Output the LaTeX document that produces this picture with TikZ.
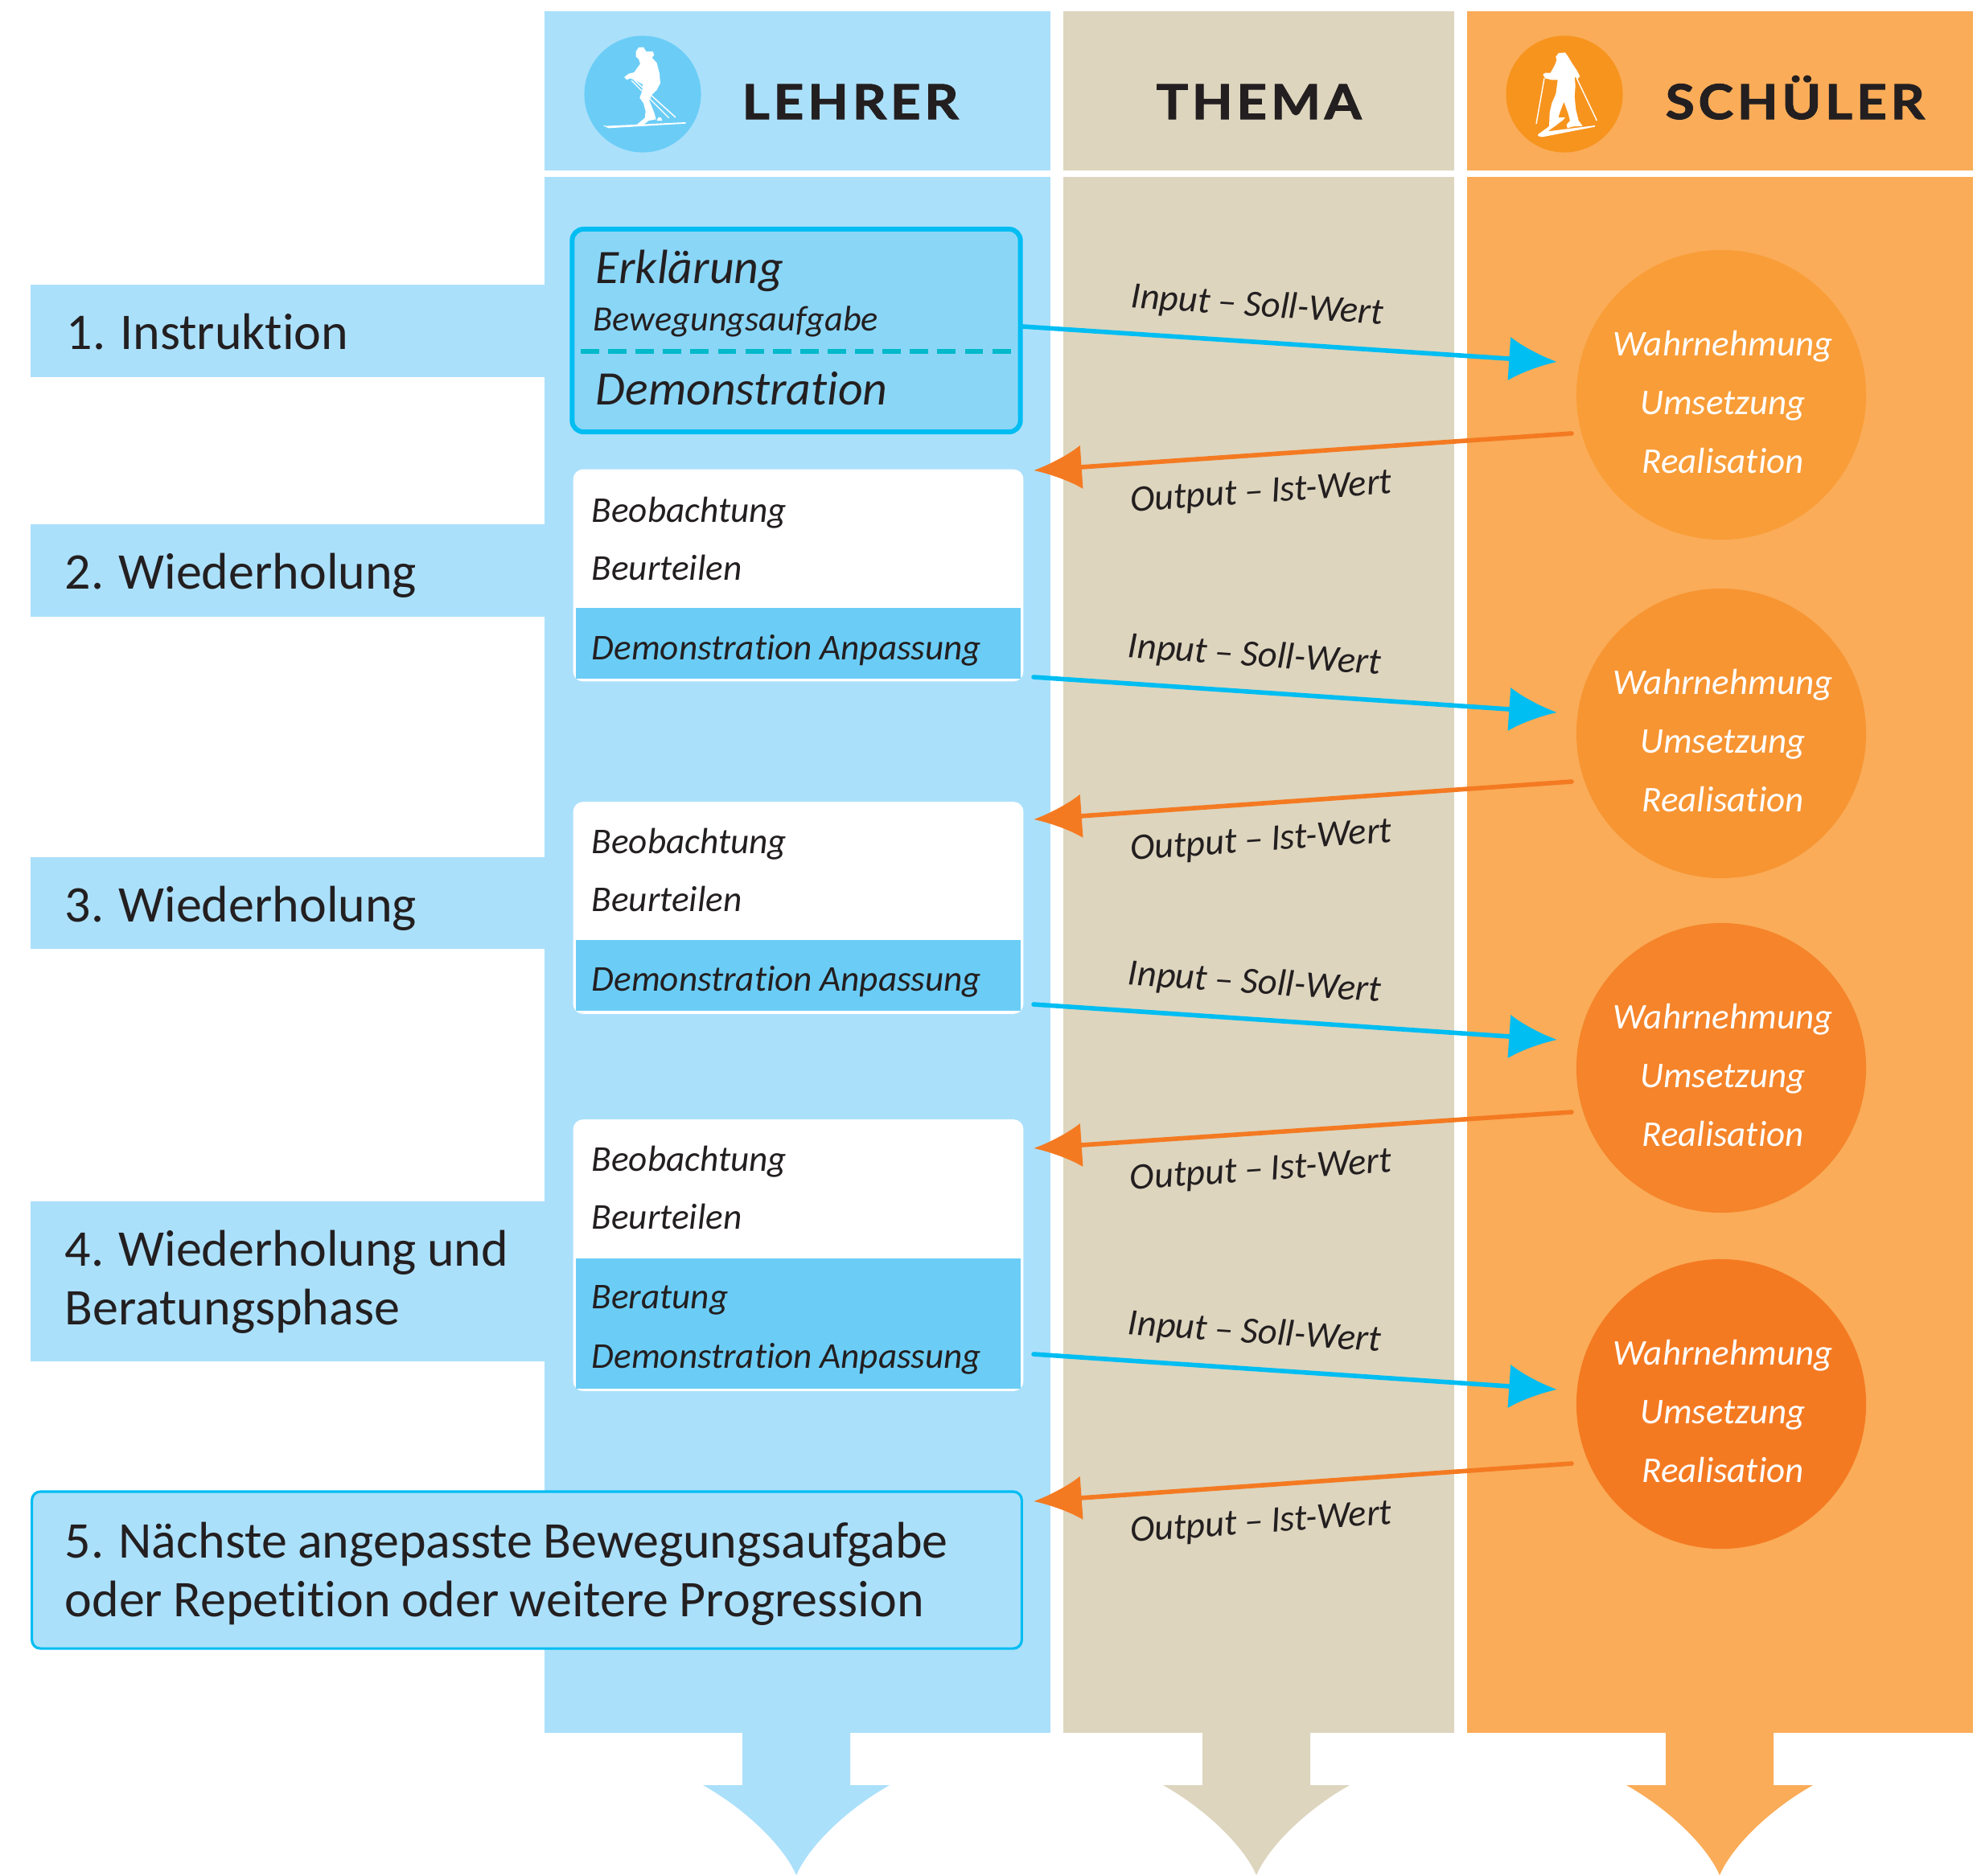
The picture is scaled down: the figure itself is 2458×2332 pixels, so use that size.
\documentclass[tikz,border=0pt]{standalone}
\usepackage{fontspec}
\setmainfont[Ligatures=NoCommon, WordSpace=0.92]{Carlito}
\newfontfamily\headfont[LetterSpace=8, FakeStretch=1.1, BoldFeatures={FakeBold=1.8}]{Lato}
\usetikzlibrary{arrows.meta}

\definecolor{dunkel}{HTML}{231F20}
\definecolor{hellblau}{HTML}{ABE0FB}
\definecolor{mittelblau}{HTML}{8AD6F7}
\definecolor{kopfblau}{HTML}{6BCDF6}
\definecolor{cyan}{HTML}{00BDF2}
\definecolor{teal}{HTML}{00B9C9}
\definecolor{beige}{HTML}{DDD5BE}
\definecolor{hellorange}{HTML}{FAAC58}
\definecolor{kopforange}{HTML}{F7941E}
\definecolor{pfeilorange}{HTML}{F47A22}
\definecolor{kreisa}{HTML}{F99D38}
\definecolor{kreisb}{HTML}{F79533}
\definecolor{kreisc}{HTML}{F5842A}
\definecolor{kreisd}{HTML}{F47A22}

\begin{document}
\begin{tikzpicture}[x=0.01cm, y=-0.01cm, text=dunkel,
    band/.style = {fill=hellblau, minimum width=6.39cm, inner sep=0pt},
    stufe/.style = {anchor=base west, inner sep=0pt, font=\fontsize{18.2}{20.7}\selectfont},
    kasten/.style = {draw=white, fill=white, line width=1pt, rounded corners=3pt, minimum width=5.56cm},
    blauteil/.style = {fill=kopfblau, minimum width=5.53cm, inner sep=0pt},
    klein/.style = {anchor=base west, inner sep=0pt, font=\fontsize{12.85}{13}\selectfont\itshape},
    gross/.style = {anchor=base west, inner sep=0pt, font=\fontsize{17}{17}\selectfont\itshape},
    kopf/.style = {anchor=base west, inner sep=0pt, font=\headfont\bfseries\fontsize{17}{17}\selectfont},
    kreis/.style = {circle, minimum size=3.6cm, inner sep=0pt},
    kreistext/.style = {inner sep=0pt, text=white, align=center, font=\fontsize{12.8}{20.7}\selectfont\itshape},
    kopfkreis/.style = {circle, minimum size=1.45cm, inner sep=0pt},
    hin/.style = {cyan, line width=1.6pt, line cap=round, -{Latex[length=17pt, width=15.5pt]}},
    her/.style = {pfeilorange, line width=1.6pt, line cap=round, -{Latex[length=17pt, width=15.5pt]}},
    pfeiltext/.style = {sloped, inner sep=0pt, font=\fontsize{13.2}{13.2}\selectfont\itshape, text=dunkel}]

    \useasboundingbox (0,0) rectangle (2458,2332);

    % spalten
    \fill[hellblau] (677,14) rectangle (1306,212);
    \fill[hellblau] (677,220) rectangle (1306,2155);
    \fill[beige] (1322,14) rectangle (1808,212);
    \fill[beige] (1322,220) rectangle (1808,2155);
    \fill[hellorange] (1824,14) rectangle (2453,212);
    \fill[hellorange] (1824,220) rectangle (2453,2155);

    % pfeile unten
    \fill[hellblau] (923,2155) -- (1057,2155) -- (1057,2220) -- (1106,2220) .. controls (1051,2251) and (1005,2297) .. (990,2332) .. controls (975,2297) and (929,2251) .. (874,2220) -- (923,2220) -- cycle;
    \fill[beige] (1495,2155) -- (1629,2155) -- (1629,2220) -- (1678,2220) .. controls (1623,2251) and (1577,2297) .. (1562,2332) .. controls (1547,2297) and (1501,2251) .. (1446,2220) -- (1495,2220) -- cycle;
    \fill[hellorange] (2071,2155) -- (2205,2155) -- (2205,2220) -- (2254,2220) .. controls (2199,2251) and (2153,2297) .. (2138,2332) .. controls (2123,2297) and (2077,2251) .. (2022,2220) -- (2071,2220) -- cycle;

    % kopf
    \node[kopfkreis, fill=kopfblau] (kopf1) at (799,117) {};
    \node[kopfkreis, fill=kopforange] (kopf3) at (1945,117) {};
    \node[kopf] (lehrer) at (922,148) {LEHRER};
    \node[kopf] (thema) at (1437,148) {THEMA};
    \node[kopf] (schueler) at (2070,148) {SCHÜLER};

    % skifahrer lehrer
    \begin{scope}[shift={(720,40)}, scale=1/3]
        \draw[white, line width=0.4pt] (195,180) -- (335,320) (205,178) -- (360,318);
        \fill[white] (212,72) -- (222,57) -- (240,56) -- (250,72) -- (275,72) -- (280,85) -- (272,95) -- (290,115) -- (300,155) -- (303,190) -- (290,215) -- (270,235) -- (262,255) -- (280,300) -- (287,325) -- (260,330) -- (240,345) -- (215,345) -- (245,320) -- (248,295) -- (240,265) -- (226,245) -- (235,220) -- (238,195) -- (210,180) -- (190,172) -- (178,178) -- (168,168) -- (185,155) -- (205,150) -- (228,118) -- (222,100) -- (212,92) -- cycle;
        \fill[white] (92,347) -- (100,350) -- (398,336) -- (398,341) -- (110,358) -- (92,350) -- cycle;
        \fill[white] (295,318) -- (305,318) -- (310,330) -- (290,330) -- cycle;
    \end{scope}

    % skifahrer schueler
    \begin{scope}[shift={(1866,40)}, scale=1/3]
        \draw[white, line width=0.4pt] (162,172) -- (132,342) (283,172) -- (358,330);
        \fill[white] (205,92) -- (215,78) -- (240,76) -- (250,90) -- (265,115) -- (285,145) -- (295,165) -- (285,175) -- (275,165) -- (278,200) -- (275,240) -- (280,290) -- (290,330) -- (305,350) -- (270,352) -- (248,358) -- (245,345) -- (258,330) -- (250,300) -- (235,260) -- (220,300) -- (205,350) -- (180,350) -- (182,300) -- (190,265) -- (205,230) -- (212,178) -- (190,178) -- (165,172) -- (157,158) -- (165,152) -- (185,152) -- (200,125) -- (208,105) -- cycle;
        \fill[white] (138,382) -- (175,355) -- (212,318) -- (240,318) -- (232,328) -- (175,370) -- (352,348) -- (350,353) -- (155,391) -- (140,388) -- cycle;
    \end{scope}

    % phasen links
    \node[band, minimum height=1.15cm] (band1) at (357.5,411.5) {};
    \node[band, minimum height=1.15cm] (band2) at (357.5,709.5) {};
    \node[band, minimum height=1.14cm] (band3) at (357.5,1123) {};
    \node[band, minimum height=1.99cm] (band4) at (357.5,1593.5) {};
    \node[stufe] (text1) at (82,434) {1. Instruktion};
    \node[stufe] (text2) at (80,732) {2. Wiederholung};
    \node[stufe] (text3) at (80,1146) {3. Wiederholung};
    \node[stufe] (text4a) at (80,1574) {4. Wiederholung und};
    \node[stufe] (text4b) at (80,1647) {Beratungsphase};

    % erster kasten
    \node[draw=cyan, fill=mittelblau, line width=1.7pt, rounded corners=4pt, minimum width=5.57cm, minimum height=2.52cm] (box1) at (990,411) {};
    \draw[teal, line width=1.7pt, dash pattern=on 6.5pt off 3.2pt] (722,437) -- (1262,437);
    \node[gross] (erkl) at (740,352) {Erklärung};
    \node[klein, font=\fontsize{12.6}{13}\selectfont\itshape] (aufg) at (737,411) {Bewegungsaufgabe};
    \node[gross] (demo) at (740,503) {Demonstration};

    % kasten 2
    \node[kasten, minimum height=2.6cm] (box2) at (992.5,715.5) {};
    \node[blauteil, minimum height=0.88cm] (blau2) at (992.5,800) {};
    \node[klein] (beob2) at (735,649) {Beobachtung};
    \node[klein] (beur2) at (735,721) {Beurteilen};
    \node[klein] (anp2) at (735,820) {Demonstration Anpassung};

    % kasten 3
    \node[kasten, minimum height=2.6cm] (box3) at (992.5,1129) {};
    \node[blauteil, minimum height=0.88cm] (blau3) at (992.5,1213) {};
    \node[klein] (beob3) at (735,1061) {Beobachtung};
    \node[klein] (beur3) at (735,1133) {Beurteilen};
    \node[klein] (anp3) at (735,1232) {Demonstration Anpassung};

    % kasten 4
    \node[kasten, minimum height=3.34cm] (box4) at (992.5,1561) {};
    \node[blauteil, minimum height=1.61cm] (blau4) at (992.5,1646) {};
    \node[klein] (beob4) at (735,1456) {Beobachtung};
    \node[klein] (beur4) at (735,1528) {Beurteilen};
    \node[klein] (bera4) at (735,1627) {Beratung};
    \node[klein] (anp4) at (735,1701) {Demonstration Anpassung};

    % kasten 5
    \node[band, draw=cyan, line width=0.9pt, rounded corners=3pt, minimum width=12.3cm, minimum height=1.95cm] (box5) at (655,1952.5) {};
    \node[stufe] (text5a) at (80,1937) {5. Nächste angepasste Bewegungsaufgabe};
    \node[stufe] (text5b) at (80,2010) {oder Repetition oder weitere Progression};

    % kreise
    \node[kreis, fill=kreisa] (kreis1) at (2140,491) {};
    \node[kreis, fill=kreisb] (kreis2) at (2140,912) {};
    \node[kreis, fill=kreisc] (kreis3) at (2140,1328) {};
    \node[kreis, fill=kreisd] (kreis4) at (2140,1746) {};
    \node[kreistext] (wort1) at (2142,500) {Wahrnehmung\\Umsetzung\\Realisation};
    \node[kreistext] (wort2) at (2142,921) {Wahrnehmung\\Umsetzung\\Realisation};
    \node[kreistext] (wort3) at (2142,1337) {Wahrnehmung\\Umsetzung\\Realisation};
    \node[kreistext] (wort4) at (2142,1755) {Wahrnehmung\\Umsetzung\\Realisation};

    % freie enden
    \coordinate (start1) at (1271,406);
    \coordinate (start2) at (1285,842);
    \coordinate (start3) at (1285,1249);
    \coordinate (start4) at (1285,1684);
    \coordinate (ziel1) at (1936,450);
    \coordinate (ziel2) at (1936,886);
    \coordinate (ziel3) at (1936,1293);
    \coordinate (ziel4) at (1936,1728);
    \coordinate (aus1) at (1954,539);
    \coordinate (aus2) at (1954,972);
    \coordinate (aus3) at (1954,1383);
    \coordinate (aus4) at (1954,1820);
    \coordinate (ende1) at (1285,585);
    \coordinate (ende2) at (1285,1019);
    \coordinate (ende3) at (1285,1428);
    \coordinate (ende4) at (1285,1867);

    \draw[hin] (start1) -- node[pfeiltext, above=6.2pt, pos=.435] (in1) {Input – Soll-Wert} (ziel1);
    \draw[hin] (start2) -- node[pfeiltext, above=6.2pt, pos=.417] (in2) {Input – Soll-Wert} (ziel2);
    \draw[hin] (start3) -- node[pfeiltext, above=6.2pt, pos=.417] (in3) {Input – Soll-Wert} (ziel3);
    \draw[hin] (start4) -- node[pfeiltext, above=6.2pt, pos=.417] (in4) {Input – Soll-Wert} (ziel4);
    \draw[her] (aus1) -- node[pfeiltext, below=7.5pt, pos=.582] (out1) {Output – Ist-Wert} (ende1);
    \draw[her] (aus2) -- node[pfeiltext, below=7.5pt, pos=.582] (out2) {Output – Ist-Wert} (ende2);
    \draw[her] (aus3) -- node[pfeiltext, below=7.5pt, pos=.582] (out3) {Output – Ist-Wert} (ende3);
    \draw[her] (aus4) -- node[pfeiltext, below=7.5pt, pos=.582] (out4) {Output – Ist-Wert} (ende4);
\end{tikzpicture}
\end{document}
